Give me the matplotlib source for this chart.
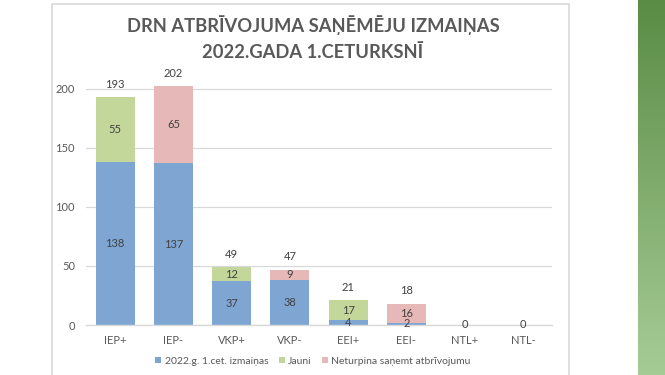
import numpy as np
import matplotlib
matplotlib.use("Agg")
import matplotlib.pyplot as plt
from matplotlib.patches import Rectangle

plt.rcParams['font.family'] = ['Lato', 'DejaVu Sans']

categories = ['IEP+', 'IEP-', 'VKP+', 'VKP-', 'EEI+', 'EEI-', 'NTL+', 'NTL-']
izmainas = [138, 137, 37, 38, 4, 2, 0, 0]
jauni = [55, 0, 12, 0, 17, 0, 0, 0]
neturpina = [0, 65, 0, 9, 0, 16, 0, 0]
series_names = ['2022.g. 1.cet. izmaiņas', 'Jauni', 'Neturpina saņemt atbrīvojumu']

c_blue = '#7fa6d3'
c_green = '#c3d79b'
c_pink = '#e7b8b8'
txt = '#404040'
grey = '#595959'
fs = 8

fig = plt.figure(figsize=(6.65, 3.75), dpi=100)

# chart frame
fig.patches.append(Rectangle((52 / 665, -0.05), (568.5 - 52) / 665, 1.05 - 3.5 / 375,
                             transform=fig.transFigure, fill=False,
                             edgecolor='#d9d9d9', linewidth=1.2))

# green side stripe
gax = fig.add_axes([638 / 665, 0, 27 / 665, 1])
grad = np.linspace(0, 1, 256).reshape(-1, 1)
cmap = matplotlib.colors.LinearSegmentedColormap.from_list('g', ['#5a8c45', '#a6cc96'])
gax.imshow(grad, aspect='auto', cmap=cmap, extent=[0, 1, 1, 0])
gax.axis('off')

ax = fig.add_axes([86 / 665, 1 - 325 / 375, (552 - 86) / 665, 0.677])
x = np.arange(len(categories))
w = 0.67
base = np.array(izmainas)
j = np.array(jauni)
n = np.array(neturpina)
top = base + j
total = base + j + n

ax.bar(x, base, w, color=c_blue, label=series_names[0], zorder=2)
ax.bar(x, j, w, bottom=base, color=c_green, label=series_names[1], zorder=2)
ax.bar(x, n, w, bottom=top, color=c_pink, label=series_names[2], zorder=2)

for i in range(len(categories)):
    ax.text(x[i], base[i] / 2, str(base[i]), ha='center', va='center',
            fontsize=fs, color=txt, zorder=3)
    if j[i] > 0:
        ax.text(x[i], base[i] + j[i] / 2, str(j[i]), ha='center', va='center',
                fontsize=fs, color=txt, zorder=3)
    if n[i] > 0:
        ax.text(x[i], top[i] + n[i] / 2, str(n[i]), ha='center', va='center',
                fontsize=fs, color=txt, zorder=3)
    if total[i] > 0:
        ax.text(x[i], total[i] + 11, str(total[i]), ha='center', va='center',
                fontsize=fs, color=txt, zorder=3, clip_on=False)

ax.set_xlim(-0.5, len(categories) - 0.5)
ax.set_ylim(0, 215)
ax.set_yticks([0, 50, 100, 150, 200])
ax.set_xticks(x)
ax.set_xticklabels(categories)
ax.tick_params(axis='both', length=0, labelsize=fs, labelcolor=grey)
ax.tick_params(axis='x', pad=7)
ax.tick_params(axis='y', pad=8)
ax.grid(axis='y', color='#d9d9d9', linewidth=0.9, zorder=0)
for s in ['top', 'right', 'left']:
    ax.spines[s].set_visible(False)
ax.spines['bottom'].set_color('#d9d9d9')
ax.spines['bottom'].set_linewidth(1.0)

fig.text(313 / 665, 1 - 25 / 375, 'DRN ATBRĪVOJUMA SAŅĒMĒJU IZMAIŅAS',
         ha='center', va='center', fontsize=13.2, fontweight='bold', color=grey)
fig.text(313 / 665, 1 - 52 / 375, '2022.GADA 1.CETURKSNĪ',
         ha='center', va='center', fontsize=13.2, fontweight='bold', color=grey)

fig.legend(loc='center', bbox_to_anchor=(313 / 665, 1 - 361 / 375), ncol=3,
           frameon=False, fontsize=7.5, labelcolor=grey, handlelength=0.6,
           handleheight=0.6, handletextpad=0.3, columnspacing=1.0)

fig.savefig('out.png', dpi=100)
